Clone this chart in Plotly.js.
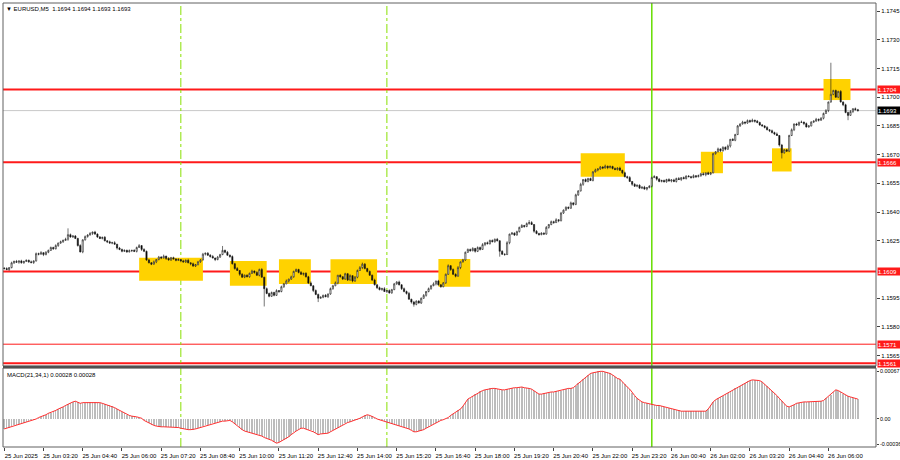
<!DOCTYPE html>
<html>
<head>
<meta charset="utf-8">
<script src="https://cdn.plot.ly/plotly-3.0.1.min.js"></script>
<style>
  html, body { margin: 0; padding: 0; background: #fff; }
  #chart { width: 900px; height: 460px; }
</style>
</head>
<body>
<div id="chart"></div>
<script>
// EURUSD M5, 25 Jun 02:00 -> 26 Jun 07:00, one bar every 5 minutes
// prices kept in points (0.00001) above BASE
const BASE = 1.15;

const openPts = [
  1108,1105,1100,1110,1135,1142,1138,1145,1135,1142,
  1148,1140,1136,1145,1183,1180,1188,1178,1190,1200,
  1215,1208,1225,1238,1245,1252,1258,1282,1270,1275,
  1262,1225,1192,1255,1272,1280,1288,1296,1285,1270,
  1262,1268,1250,1245,1238,1240,1232,1212,1205,1195,
  1200,1192,1198,1200,1195,1215,1225,1205,1195,1150,
  1135,1128,1140,1152,1165,1160,1170,1158,1150,1162,
  1155,1148,1152,1145,1140,1148,1135,1130,1118,1125,
  1140,1150,1180,1185,1175,1168,1160,1152,1165,1178,
  1200,1190,1175,1168,1130,1105,1095,1075,1060,1070,
  1062,1080,1092,1085,1070,1100,1060,1000,975,960,
  980,965,990,985,1010,1025,1040,1050,1062,1090,
  1100,1085,1075,1080,1062,1030,1015,990,970,950,
  955,965,958,972,1000,1015,1030,1070,1062,1050,
  1078,1045,1068,1040,1060,1095,1110,1128,1105,1090,
  1070,1045,1020,1005,995,1000,985,990,978,995,
  1025,1035,1020,1000,985,975,945,930,918,935,
  925,950,965,985,1000,1015,1025,1040,1020,1010,
  1030,1075,1120,1100,1075,1065,1110,1140,1150,1190,
  1205,1198,1210,1195,1215,1205,1230,1240,1235,1252,
  1245,1258,1250,1195,1180,1178,1240,1285,1290,1280,
  1298,1320,1330,1325,1340,1345,1335,1300,1288,1282,
  1290,1285,1320,1335,1350,1345,1360,1355,1395,1410,
  1425,1420,1448,1440,1490,1510,1545,1570,1560,1575,
  1565,1610,1620,1625,1635,1630,1640,1632,1638,1628,
  1622,1630,1618,1605,1585,1580,1560,1545,1535,1540,
  1525,1530,1520,1528,1535,1580,1585,1572,1560,1565,
  1558,1570,1562,1568,1560,1575,1570,1580,1575,1588,
  1585,1580,1590,1585,1590,1600,1595,1605,1598,1605,
  1705,1715,1730,1720,1738,1728,1745,1780,1775,1805,
  1850,1860,1870,1865,1878,1872,1880,1875,1868,1855,
  1850,1842,1830,1825,1815,1808,1800,1750,1710,1725,
  1718,1800,1830,1860,1855,1868,1870,1862,1845,1850,
  1870,1875,1885,1880,1890,1915,1930,1975,2015,2035,
  2000,2030,1975,1960,1920,1905,1925,1940,1935
];

const highPts = [
  1112,1112,1113,1141,1147,1150,1147,1151,1146,1153,
  1152,1147,1148,1189,1188,1196,1190,1196,1204,1220,
  1219,1232,1241,1251,1257,1266,1315,1288,1279,1280,
  1266,1232,1258,1278,1285,1296,1298,1302,1289,1275,
  1272,1275,1253,1251,1245,1248,1234,1218,1209,1205,
  1204,1205,1203,1206,1220,1233,1227,1211,1199,1155,
  1139,1147,1155,1171,1170,1178,1172,1164,1166,1167,
  1159,1159,1155,1151,1153,1156,1137,1136,1129,1145,
  1154,1187,1188,1191,1180,1176,1162,1171,1182,1223,
  1204,1197,1178,1174,1135,1113,1097,1081,1074,1075,
  1084,1099,1095,1091,1105,1108,1062,1006,979,985,
  984,997,993,1016,1030,1048,1052,1068,1094,1105,
  1104,1092,1083,1086,1067,1038,1017,996,974,960,
  969,972,975,1006,1020,1038,1072,1076,1066,1083,
  1082,1075,1071,1066,1100,1118,1136,1134,1109,1095,
  1074,1052,1023,1011,1005,1008,992,996,999,1030,
  1039,1042,1023,1006,990,983,947,936,939,940,
  954,972,988,1006,1020,1033,1042,1046,1024,1035,
  1079,1127,1123,1106,1080,1118,1142,1156,1194,1210,
  1209,1217,1213,1221,1220,1238,1242,1246,1256,1257,
  1262,1265,1253,1201,1185,1248,1287,1296,1294,1303,
  1324,1337,1333,1346,1358,1353,1337,1306,1292,1295,
  1294,1327,1338,1356,1355,1368,1362,1401,1414,1430,
  1429,1455,1451,1496,1515,1553,1572,1576,1579,1580,
  1614,1627,1628,1641,1640,1648,1642,1644,1642,1633,
  1634,1637,1621,1611,1590,1588,1562,1551,1544,1545,
  1534,1537,1531,1541,1585,1593,1587,1578,1569,1570,
  1574,1577,1571,1574,1580,1583,1582,1586,1592,1593,
  1589,1597,1593,1596,1605,1608,1607,1611,1609,1710,
  1719,1737,1733,1744,1743,1753,1782,1786,1809,1855,
  1864,1877,1873,1884,1883,1888,1882,1881,1872,1860,
  1854,1849,1833,1831,1820,1816,1802,1756,1729,1730,
  1804,1837,1863,1866,1873,1878,1872,1868,1854,1875,
  1879,1892,1888,1896,1920,1938,1977,2180,2039,2040,
  2034,2037,1978,1966,1925,1933,1942,1946,1939
];

const lowPts = [
  1100,1097,1093,1106,1129,1136,1130,1131,1130,1139,
  1135,1133,1129,1141,1174,1178,1170,1174,1185,1197,
  1203,1205,1218,1234,1239,1250,1250,1266,1265,1259,
  1220,1189,1185,1251,1266,1278,1280,1281,1265,1259,
  1257,1247,1238,1234,1232,1230,1204,1201,1190,1192,
  1187,1189,1191,1191,1189,1213,1197,1191,1145,1132,
  1123,1125,1133,1148,1154,1158,1150,1146,1145,1152,
  1143,1145,1138,1136,1134,1133,1122,1114,1113,1122,
  1135,1147,1173,1171,1162,1158,1144,1148,1160,1175,
  1185,1172,1161,1126,1099,1093,1067,1056,1055,1059,
  1057,1077,1078,1066,1064,1058,907,971,955,957,
  960,962,978,981,1004,1023,1032,1046,1057,1087,
  1080,1072,1068,1058,1024,1013,982,966,930,947,
  950,955,951,968,994,1013,1022,1058,1045,1047,
  1040,1042,1033,1036,1054,1093,1102,1101,1085,1067,
  1040,1017,998,991,989,983,977,974,973,992,
  1020,1017,993,981,969,943,922,906,913,922,
  920,947,958,981,994,1013,1017,1016,1005,1007,
  1025,1072,1093,1071,1059,1063,1102,1136,1145,1187,
  1193,1195,1188,1191,1199,1203,1222,1231,1230,1242,
  1240,1247,1167,1176,1172,1176,1232,1281,1275,1277,
  1293,1317,1318,1321,1334,1333,1292,1284,1277,1279,
  1280,1282,1313,1331,1339,1343,1347,1351,1390,1407,
  1415,1417,1433,1436,1484,1508,1537,1556,1555,1562,
  1560,1607,1613,1621,1624,1628,1624,1628,1623,1619,
  1617,1615,1598,1581,1574,1558,1537,1531,1530,1522,
  1520,1517,1513,1524,1529,1578,1564,1556,1555,1555,
  1553,1559,1555,1556,1554,1568,1562,1571,1570,1582,
  1575,1577,1578,1581,1584,1593,1587,1594,1593,1602,
  1700,1712,1713,1716,1722,1726,1737,1771,1770,1802,
  1845,1857,1858,1861,1866,1870,1867,1864,1850,1847,
  1837,1827,1818,1811,1802,1798,1742,1680,1705,1715,
  1713,1797,1823,1851,1849,1866,1854,1841,1840,1847,
  1865,1872,1873,1876,1884,1913,1922,1971,2010,1997,
  1995,1972,1953,1916,1880,1903,1917,1931,1925
];

const closePts = [
  1105,1100,1110,1135,1142,1138,1145,1135,1142,1148,
  1140,1136,1145,1183,1180,1188,1178,1190,1200,1215,
  1208,1225,1238,1245,1252,1258,1282,1270,1275,1262,
  1225,1192,1255,1272,1280,1288,1296,1285,1270,1262,
  1268,1250,1245,1238,1240,1232,1212,1205,1195,1200,
  1192,1198,1200,1195,1215,1225,1205,1195,1150,1135,
  1128,1140,1152,1165,1160,1170,1158,1150,1162,1155,
  1148,1152,1145,1140,1148,1135,1130,1118,1125,1140,
  1150,1180,1185,1175,1168,1160,1152,1165,1178,1200,
  1190,1175,1168,1130,1105,1095,1075,1060,1070,1062,
  1080,1092,1085,1070,1100,1060,1000,975,960,980,
  965,990,985,1010,1025,1040,1050,1062,1090,1100,
  1085,1075,1080,1062,1030,1015,990,970,950,955,
  965,958,972,1000,1015,1030,1070,1062,1050,1078,
  1045,1068,1040,1060,1095,1110,1128,1105,1090,1070,
  1045,1020,1005,995,1000,985,990,978,995,1025,
  1035,1020,1000,985,975,945,930,918,935,925,
  950,965,985,1000,1015,1025,1040,1020,1010,1030,
  1075,1120,1100,1075,1065,1110,1140,1150,1190,1205,
  1198,1210,1195,1215,1205,1230,1240,1235,1252,1245,
  1258,1250,1195,1180,1178,1240,1285,1290,1280,1298,
  1320,1330,1325,1340,1345,1335,1300,1288,1282,1290,
  1285,1320,1335,1350,1345,1360,1355,1395,1410,1425,
  1420,1448,1440,1490,1510,1545,1570,1560,1575,1565,
  1610,1620,1625,1635,1630,1640,1632,1638,1628,1622,
  1630,1618,1605,1585,1580,1560,1545,1535,1540,1525,
  1530,1520,1528,1535,1580,1585,1572,1560,1565,1558,
  1570,1562,1568,1560,1575,1570,1580,1575,1588,1585,
  1580,1590,1585,1590,1600,1595,1605,1598,1605,1705,
  1715,1730,1720,1738,1728,1745,1780,1775,1805,1850,
  1860,1870,1865,1878,1872,1880,1875,1868,1855,1850,
  1842,1830,1825,1815,1808,1800,1750,1710,1725,1718,
  1800,1830,1860,1855,1868,1870,1862,1845,1850,1870,
  1875,1885,1880,1890,1915,1930,1975,2015,2035,2000,
  2030,1975,1960,1920,1905,1925,1940,1935,1930
];

// MACD(21,34,1) in units of 0.00001
const macdPts = [
  -14,-13,-12,-10,-9,-8,-7,-6,-5,-4,
  -3,-2,-1,0,2,3,5,6,8,9,
  11,12,14,15,17,19,21,23,24,25,
  24,22,23,23,24,24,24,24,23,23,
  22,21,20,19,18,16,14,12,10,8,
  6,5,4,4,3,2,1,-2,-4,-6,
  -8,-9,-10,-11,-11,-11,-11,-11,-11,-11,
  -12,-12,-13,-14,-14,-15,-15,-15,-14,-13,
  -12,-10,-9,-8,-7,-6,-5,-4,-4,-3,
  -3,-2,-2,-4,-7,-9,-12,-15,-17,-18,
  -19,-20,-21,-21,-22,-24,-26,-27,-28,-30,
  -32,-34,-33,-31,-30,-28,-25,-22,-19,-17,
  -15,-13,-13,-14,-15,-16,-18,-20,-22,-21,
  -21,-20,-20,-18,-16,-14,-12,-10,-8,-6,
  -5,-4,-3,-2,-1,1,3,5,6,5,
  4,2,0,-1,-2,-3,-5,-6,-7,-8,
  -9,-10,-10,-11,-12,-14,-16,-18,-18,-17,
  -17,-15,-13,-11,-9,-7,-5,-4,-2,-1,
  0,2,5,7,9,12,14,18,23,28,
  30,32,35,37,39,40,41,42,43,43,
  43,42,41,41,41,42,42,43,44,44,
  45,45,44,44,43,42,40,37,35,35,
  36,37,37,38,38,39,40,40,41,42,
  43,43,44,47,50,52,56,59,62,64,
  65,66,67,67,67,66,66,64,62,59,
  57,56,52,49,45,42,37,33,29,26,
  24,23,22,21,20,20,19,19,18,17,
  16,15,14,14,13,12,11,11,11,11,
  11,11,11,11,11,11,11,14,19,24,
  27,29,31,33,35,37,39,41,43,45,
  47,49,51,53,54,55,55,55,54,52,
  49,46,43,40,37,33,29,25,21,18,
  17,18,20,22,23,23,24,24,24,24,
  24,25,25,25,26,29,31,34,38,41,
  40,38,35,34,32,31,30,29,28
];

const timeLabels = [
  '25 Jun 2025', '25 Jun 03:20', '25 Jun 04:40', '25 Jun 06:00', '25 Jun 07:20',
  '25 Jun 08:40', '25 Jun 10:00', '25 Jun 11:20', '25 Jun 12:40', '25 Jun 14:00',
  '25 Jun 15:20', '25 Jun 16:40', '25 Jun 18:00', '25 Jun 19:20', '25 Jun 20:40',
  '25 Jun 22:00', '25 Jun 23:20', '26 Jun 00:40', '26 Jun 02:00', '26 Jun 03:20',
  '26 Jun 04:40', '26 Jun 06:00'
];
const priceTicks = [1.1745, 1.173, 1.1715, 1.17, 1.1685, 1.167, 1.1655, 1.164, 1.1625, 1.1595, 1.158, 1.1565];
const levels = [1.1704, 1.1666, 1.1609, 1.1571, 1.1561];
const bid = 1.1693;
const header = 'EURUSD,M5  1.1694 1.1694 1.1693 1.1693';
const macdTitle = 'MACD(21,34,1) 0.00028 0.00028';
// session lines (bar index): 08:00, 15:00 dashed, midnight solid
const sessionBars = [72, 156];
const dayBar = 264;
// marked zones: [bar from, bar to, low, high]
const zones = [
  [55, 81, 1.16041, 1.16161],
  [92, 107, 1.16015, 1.16145],
  [112, 125, 1.16024, 1.16154],
  [133, 152, 1.16024, 1.16154],
  [177, 190, 1.16010, 1.16155],
  [235, 253, 1.16585, 1.16707],
  [284, 293, 1.16603, 1.16715],
  [313, 321, 1.16612, 1.16733],
  [334, 345, 1.16985, 1.17095],
];

const toPrice = p => +(BASE + p / 1e5).toFixed(5);
const bars = closePts.map((_, i) => i);
const FONT = 'Liberation Sans, Arial, sans-serif';
const mainDom = [0.1824, 1];
const macdDom = [0, 0.1779];

let data = [
  {
    type: 'candlestick',
    x: bars,
    open: openPts.map(toPrice),
    high: highPts.map(toPrice),
    low: lowPts.map(toPrice),
    close: closePts.map(toPrice),
    xaxis: 'x',
    yaxis: 'y',
    increasing: { line: { color: '#1a1a1a', width: 0.6 }, fillcolor: '#ffffff' },
    decreasing: { line: { color: '#1a1a1a', width: 0.6 }, fillcolor: '#000000' },
    whiskerwidth: 0,
    hoverinfo: 'skip',
    showlegend: false,
  },
  {
    type: 'bar',
    x: bars,
    y: macdPts.map(v => v / 1e5),
    xaxis: 'x',
    yaxis: 'y2',
    width: 0.6,
    marker: { color: '#bcbcbc', line: { width: 0 } },
    hoverinfo: 'skip',
    showlegend: false,
  },
  {
    type: 'scatter',
    mode: 'lines',
    x: bars,
    y: macdPts.map(v => v / 1e5),
    xaxis: 'x',
    yaxis: 'y2',
    line: { color: '#ff3030', width: 1 },
    hoverinfo: 'skip',
    showlegend: false,
  },
];

let shapes = [];
zones.forEach(z => {
  shapes.push({
    type: 'rect', xref: 'x', yref: 'y',
    x0: z[0], x1: z[1], y0: z[2], y1: z[3],
    fillcolor: '#ffd200', line: { width: 0 }, layer: 'below',
  });
});
shapes.push({
  type: 'line', xref: 'paper', yref: 'y', x0: 0, x1: 1, y0: bid, y1: bid,
  line: { color: '#c8c8c8', width: 1 }, layer: 'below',
});
levels.forEach(lv => {
  shapes.push({
    type: 'line', xref: 'paper', yref: 'y', x0: 0, x1: 1, y0: lv, y1: lv,
    line: { color: '#ff1a1a', width: lv === 1.1571 ? 1 : 2 }, layer: 'below',
  });
});
sessionBars.forEach(b => {
  shapes.push({
    type: 'line', xref: 'x', yref: 'paper', x0: b, x1: b, y0: 0, y1: 1,
    line: { color: '#88e000', width: 1, dash: 'dashdot' }, layer: 'below',
  });
});
shapes.push({
  type: 'line', xref: 'x', yref: 'paper', x0: dayBar, x1: dayBar, y0: 0, y1: 1,
  line: { color: '#66dd00', width: 1.5 }, layer: 'below',
});
// panel frames
shapes.push({
  type: 'rect', xref: 'paper', yref: 'paper', x0: 0, x1: 1, y0: mainDom[0], y1: mainDom[1],
  line: { color: '#606060', width: 1 },
});
shapes.push({
  type: 'rect', xref: 'paper', yref: 'paper', x0: 0, x1: 1, y0: macdDom[0], y1: macdDom[1],
  line: { color: '#606060', width: 1 },
});
shapes.push({
  type: 'line', xref: 'paper', yref: 'paper', x0: 0, x1: 1, y0: 0.1802, y1: 0.1802,
  line: { color: '#505050', width: 2.5 },
});

let annotations = [
  {
    xref: 'paper', yref: 'paper', x: 0, y: 1, xanchor: 'left', yanchor: 'top',
    xshift: 1, yshift: -1, showarrow: false,
    text: '▼ ' + header, font: { family: FONT, size: 6, color: '#000' },
  },
  {
    xref: 'paper', yref: 'paper', x: 0, y: macdDom[1], xanchor: 'left', yanchor: 'top',
    xshift: 2, yshift: -2, showarrow: false,
    text: macdTitle, font: { family: FONT, size: 6, color: '#000' },
  },
];
levels.forEach(lv => {
  annotations.push({
    xref: 'paper', yref: 'y', x: 1, y: lv, xanchor: 'left', yanchor: 'middle',
    xshift: 1, showarrow: false, bgcolor: '#ff1a1a', borderpad: 0,
    width: 23, height: 7, align: 'left',
    text: lv.toFixed(4), font: { family: FONT, size: 6, color: '#fff' },
  });
});
annotations.push({
  xref: 'paper', yref: 'y', x: 1, y: bid, xanchor: 'left', yanchor: 'middle',
  xshift: 1, showarrow: false, bgcolor: '#000', borderpad: 0,
  width: 23, height: 7, align: 'left',
  text: bid.toFixed(4), font: { family: FONT, size: 6, color: '#fff' },
});

Plotly.newPlot(
  'chart',
  data,
  {
    width: 900,
    height: 460,
    paper_bgcolor: '#ffffff',
    plot_bgcolor: '#ffffff',
    margin: { t: 3, r: 24, b: 13, l: 3 },
    font: { family: FONT, size: 6, color: '#000' },
    bargap: 0,
    xaxis: {
      range: [-0.5, 355.4],
      anchor: 'y2',
      tickvals: timeLabels.map((_, i) => i * 16),
      ticktext: timeLabels,
      ticks: 'outside',
      ticklen: 3,
      tickcolor: '#404040',
      tickfont: { family: FONT, size: 6, color: '#000' },
      ticklabelshift: 17,
      showgrid: false,
      zeroline: false,
      showline: false,
      rangeslider: { visible: false },
      fixedrange: true,
    },
    yaxis: {
      domain: mainDom,
      anchor: 'x',
      side: 'right',
      range: [1.15596, 1.17492],
      tickvals: priceTicks,
      ticktext: priceTicks.map(v => v.toFixed(4)),
      ticks: 'outside',
      ticklen: 3,
      tickcolor: '#404040',
      tickfont: { family: FONT, size: 6, color: '#000' },
      showgrid: false,
      zeroline: false,
      fixedrange: true,
    },
    yaxis2: {
      domain: macdDom,
      anchor: 'x',
      side: 'right',
      range: [-0.000394, 0.000717],
      tickvals: [0.00067, 0, -0.00036],
      ticktext: ['0.00067', '0.00', '-0.00036'],
      ticks: 'outside',
      ticklen: 2,
      tickcolor: '#404040',
      tickfont: { family: FONT, size: 5.4, color: '#000' },
      showgrid: false,
      zeroline: false,
      fixedrange: true,
    },
    shapes: shapes,
    annotations: annotations,
  },
  {
    staticPlot: true,
  }
);
</script>
</body>
</html>
